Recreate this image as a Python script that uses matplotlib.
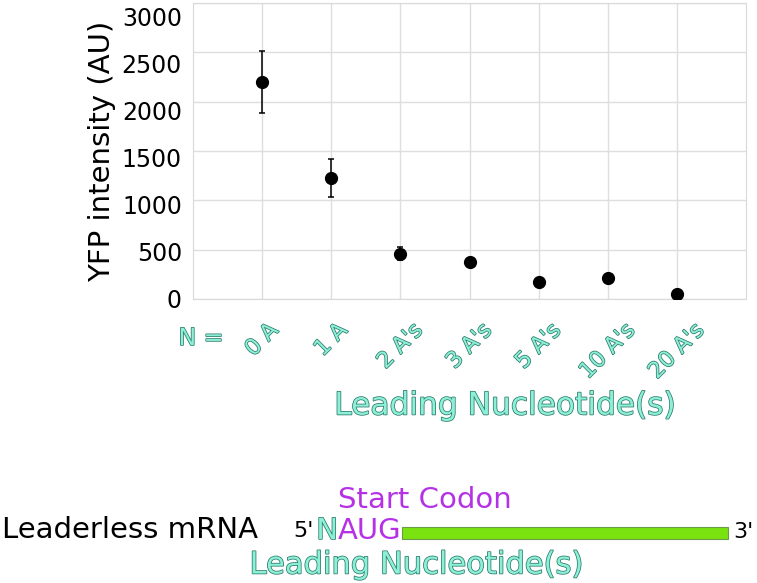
import matplotlib
matplotlib.use("Agg")
import matplotlib.pyplot as plt
import matplotlib.patheffects as pe
import matplotlib.transforms as mtransforms
from matplotlib.patches import Rectangle

# dados
rotulos = ["0 A", "1 A", "2 A's", "3 A's", "5 A's", "10 A's", "20 A's"]
intensidade = [2200, 1225, 460, 375, 170, 210, 50]
erro = [310, 195, 65, 45, 30, 30, 25]
yticks = [0, 500, 1000, 1500, 2000, 2500, 3000]

W, H = 757, 583
fig = plt.figure(figsize=(W / 100, H / 100), dpi=100)

def px(x, y):
    return x / W, 1 - y / H

ax = fig.add_axes([193 / W, 1 - 299 / H, 553 / W, 296 / H])

ax.errorbar(range(len(intensidade)), intensidade, yerr=erro, fmt="o",
            color="black", markersize=8.5, elinewidth=1.1, capsize=2.5,
            capthick=1.1, zorder=3)

ax.set_xlim(-1, 7)
ax.set_ylim(0, 3000)
ax.set_yticks(yticks)
ax.grid(True, color="#dedede", linewidth=1)
ax.set_axisbelow(True)
for s in ax.spines.values():
    s.set_color("#d9d9d9")
ax.tick_params(length=0)
ax.tick_params(axis="y", labelsize=17, pad=8)
ax.set_ylabel("YFP intensity (AU)", fontsize=21, labelpad=4)

# rotulos do eixo y levemente deslocados para baixo (como no original)
for v, lab in zip(yticks, ax.get_yticklabels()):
    desloc = mtransforms.ScaledTranslation(0, -v / 3000 * 13 / 100,
                                           fig.dpi_scale_trans)
    lab.set_transform(lab.get_transform() + desloc)

contorno = [pe.withStroke(linewidth=1.1, foreground="#2b7a6b")]
verde_claro = "#8cefd6"
roxo = "#b531e6"

ax.set_xticks(range(len(rotulos)))
ax.set_xticklabels(rotulos, rotation=45, ha="center", va="top", fontsize=16,
                   color=verde_claro, path_effects=contorno)
ax.tick_params(axis="x", pad=15)

fig.text(*px(201, 338), "N =", fontsize=17, ha="center", va="center",
         color=verde_claro, path_effects=contorno)
fig.text(*px(505, 406), "Leading Nucleotide(s)", fontsize=22.5, ha="center",
         va="center", color=verde_claro, path_effects=contorno)

# diagrama do mRNA
fig.text(*px(2, 530), "Leaderless mRNA", fontsize=21, ha="left", va="center",
         color="black")
fig.text(*px(425, 500), "Start Codon", fontsize=21, ha="center",
         va="center", color=roxo)
fig.text(*px(293, 531), "5'", fontsize=16, ha="left", va="center",
         color="black")
fig.text(*px(338, 531), "N", fontsize=21, ha="right", va="center",
         color=verde_claro, path_effects=contorno)
fig.text(*px(338, 531), "AUG", fontsize=21, ha="left", va="center",
         color=roxo)
x0, y0 = px(402, 539)
x1, y1 = px(728, 527)
fig.patches.append(Rectangle((x0, y0), x1 - x0, y1 - y0,
                             transform=fig.transFigure, facecolor="#79e20f",
                             edgecolor="#6a9a4a", linewidth=0.8))
fig.text(*px(733, 532), "3'", fontsize=16, ha="left", va="center",
         color="black")
fig.text(*px(416, 565), "Leading Nucleotide(s)", fontsize=22, ha="center",
         va="center", color=verde_claro, path_effects=contorno)

fig.savefig("out.png", dpi=100)
